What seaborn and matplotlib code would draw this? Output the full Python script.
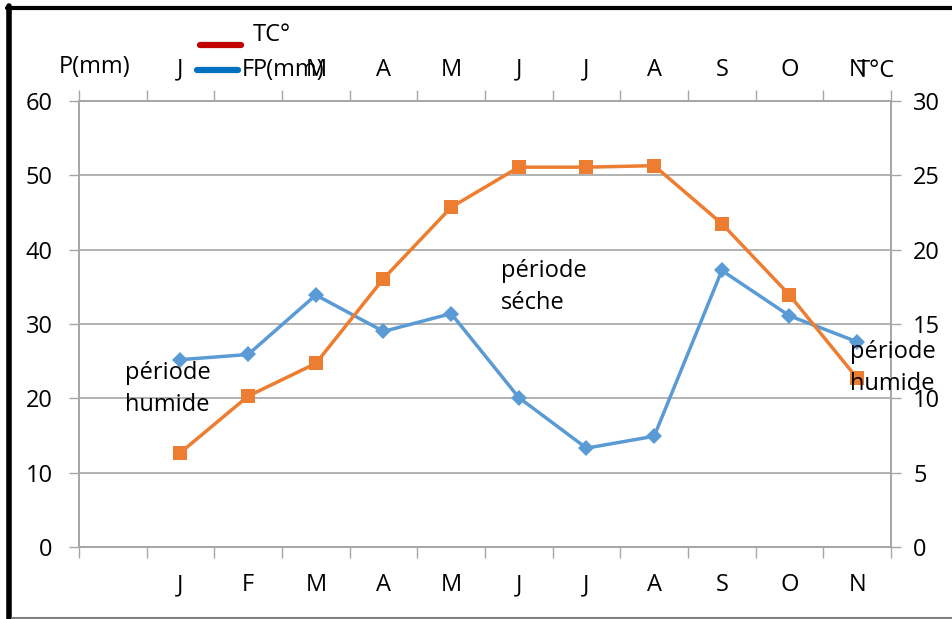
import matplotlib
matplotlib.use("Agg")
import matplotlib.pyplot as plt
from matplotlib.lines import Line2D
import seaborn as sns

# Data (first slot on the x axis is empty)
months = ["J", "F", "M", "A", "M", "J", "J", "A", "S", "O", "N"]
precip_mm = [25.2, 25.9, 33.9, 29.0, 31.4, 20.1, 13.3, 14.9, 37.2, 31.1, 27.6]
temp_c = [6.35, 10.15, 12.35, 18.05, 22.85, 25.55, 25.55, 25.65, 21.75, 16.95, 11.35]

sns.set_theme(style="white")
plt.rcParams["font.family"] = ["Open Sans", "DejaVu Sans"]
plt.rcParams["text.color"] = "black"
plt.rcParams["xtick.labelcolor"] = "black"
plt.rcParams["ytick.labelcolor"] = "black"
fs = 17

fig = plt.figure(figsize=(9.53, 6.19), dpi=100)
ax = fig.add_axes([79 / 953, 1 - 547 / 619, 812 / 953, 446 / 619])
ax2 = ax.twinx()

pos = list(range(1, len(months) + 1))
grey = "#a6a6a6"

sns.lineplot(x=pos, y=precip_mm, ax=ax, color="#5b9bd5", linewidth=2.5,
             marker="D", markersize=8.5, markeredgewidth=0, zorder=3)
sns.lineplot(x=pos, y=temp_c, ax=ax2, color="#ed7d31", linewidth=2.5,
             marker="s", markersize=10.5, markeredgewidth=0, zorder=3)

ax.set_xlim(-0.5, len(months) + 0.5)
ax.set_ylim(0, 60)
ax2.set_ylim(0, 30)
ax.set_yticks(range(0, 61, 10))
ax2.set_yticks(range(0, 31, 5))
ax.yaxis.grid(True, color=grey, linewidth=1.2)
ax.set_axisbelow(True)

# category boundaries as tick marks, month labels between them
ax.set_xticks([p - 0.5 for p in range(0, len(months) + 2)])
ax.set_xticklabels([])
ax.set_xticks(range(0, len(months) + 1), minor=True)
ax.set_xticklabels([""] + months, minor=True)
ax.tick_params(axis="x", which="major", length=8, width=1, color=grey,
               top=True, bottom=True, direction="out")
ax.tick_params(axis="x", which="minor", length=0, labelsize=fs, pad=19)
ax.tick_params(axis="y", length=7, width=1, color=grey, labelsize=fs, pad=12,
               left=True)
ax2.tick_params(axis="y", length=7, width=1, color=grey, labelsize=fs, pad=9,
                right=True)

# month labels repeated above the plot
top = ax.secondary_xaxis("top")
top.set_xticks(range(0, len(months) + 1), labels=[""] + months)
top.tick_params(length=0, labelsize=fs, pad=14, labelcolor="black")
top.spines["top"].set_visible(False)

for a in (ax, ax2):
    for s in a.spines.values():
        s.set_color(grey)
        s.set_linewidth(1.2)

# axis titles placed above the plot
fig.text(95 / 953, 1 - 67 / 619, "P(mm)", fontsize=fs, ha="center", va="center")
fig.text(876 / 953, 1 - 71 / 619, "T°C", fontsize=fs, ha="center", va="center")

# legend (drawn by hand to keep the original offsets)
fig.add_artist(Line2D([200 / 953, 241 / 953], [1 - 45 / 619] * 2, color="#c00000",
                      linewidth=4.5, transform=fig.transFigure))
fig.add_artist(Line2D([197 / 953, 238 / 953], [1 - 70 / 619] * 2, color="#0070c0",
                      linewidth=4.5, transform=fig.transFigure))
fig.text(253 / 953, 1 - 35 / 619, "TC°", fontsize=fs, ha="left", va="center")
fig.text(253 / 953, 1 - 70 / 619, "P(mm)", fontsize=fs, ha="left", va="center")

# annotations
fig.text(125 / 953, 1 - 389 / 619, "période\nhumide", fontsize=fs, ha="left",
         va="center", linespacing=1.45)
fig.text(501 / 953, 1 - 287 / 619, "période\nséche", fontsize=fs, ha="left",
         va="center", linespacing=1.45)
fig.text(850 / 953, 1 - 368 / 619, "période\nhumide", fontsize=fs, ha="left",
         va="center", linespacing=1.45)

# outer frame
fig.add_artist(Line2D([9.5 / 953, 9.5 / 953], [0, 1 - 6 / 619], color="black",
                      linewidth=4, transform=fig.transFigure))
fig.add_artist(Line2D([7.5 / 953, 1], [1 - 7.5 / 619, 1 - 7.5 / 619], color="black",
                      linewidth=3, transform=fig.transFigure))
fig.add_artist(Line2D([12 / 953, 1], [1 - 617.5 / 619, 1 - 617.5 / 619], color="#7f7f7f",
                      linewidth=1.5, transform=fig.transFigure))

fig.savefig("out.png", dpi=100)
